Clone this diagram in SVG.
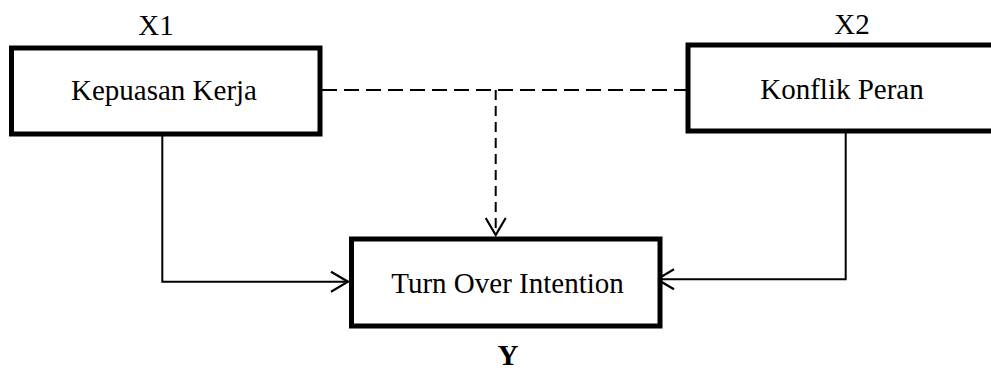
<svg xmlns="http://www.w3.org/2000/svg" width="991" height="370" viewBox="0 0 991 370">
<style>
.box{fill:#fff;stroke:#000;stroke-width:5}
.t{font-family:"Liberation Serif","Times New Roman",serif;font-size:29px;fill:#000;text-anchor:middle}
.b{font-weight:bold}
.c{fill:none;stroke:#000;stroke-width:2}
.dh{stroke-dasharray:15 7}
.dv{stroke-dasharray:10 6}
</style>
<defs>
<marker id="ah" markerUnits="userSpaceOnUse" viewBox="-20 -12 22 24" refX="0" refY="0" markerWidth="22" markerHeight="24" orient="auto">
<path d="M-17,-10 L0,0 L-17,10" fill="none" stroke="#000" stroke-width="2.2"/>
</marker>
</defs>
<g id="connectors">
<polyline class="c" points="162.3,136 162.3,281.7 348,281.7" marker-end="url(#ah)"/>
<polyline class="c" points="845.7,133 845.7,279.3 657,279.3" marker-end="url(#ah)"/>
<line class="c dh" x1="322" y1="90" x2="686" y2="90"/>
<line class="c dv" x1="495.7" y1="90" x2="495.7" y2="235" marker-end="url(#ah)"/>
</g>
<g id="x1">
<text class="t" x="156" y="35">X1</text>
<rect class="box" x="11.5" y="48" width="308.5" height="86"/>
<text class="t" x="164" y="100">Kepuasan Kerja</text>
</g>
<g id="x2">
<text class="t" x="852" y="34">X2</text>
<rect class="box" x="688" y="45" width="308" height="86"/>
<text class="t" x="842" y="99">Konflik Peran</text>
</g>
<g id="y">
<rect class="box" x="351.5" y="239" width="308.5" height="87"/>
<text class="t" x="507.5" y="293">Turn Over Intention</text>
<text class="t b" x="508" y="365">Y</text>
</g>
</svg>
